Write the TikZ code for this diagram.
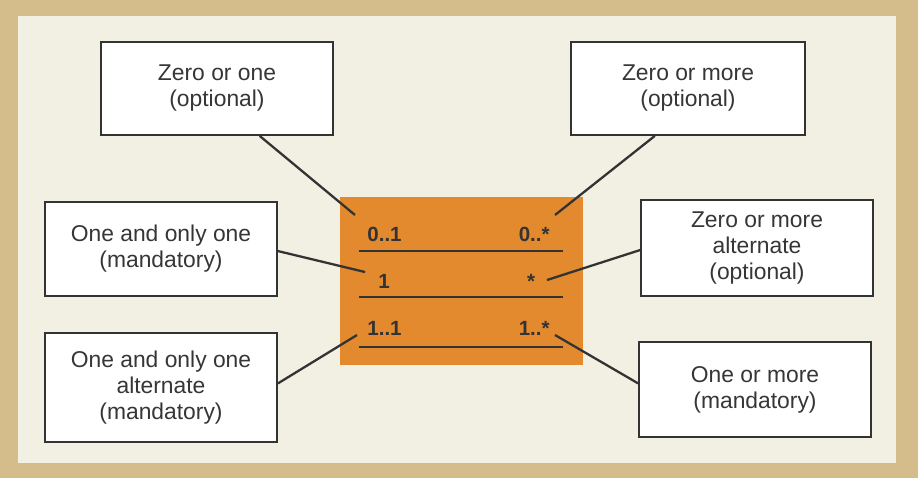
\documentclass[tikz,border=0pt]{standalone}
\usepackage{fontspec}
\setmainfont{Liberation Sans}
\definecolor{tanframe}{HTML}{D5BD8B}
\definecolor{creampanel}{HTML}{F2EFE3}
\definecolor{umlorange}{HTML}{E38A2F}
\definecolor{inkgray}{HTML}{333333}
\definecolor{txtgray}{HTML}{363636}
\tikzset{
  notebox/.style={draw=inkgray, fill=white, line width=1.05pt, align=center,
    minimum width=4.64cm, inner sep=0pt, text=txtgray,
    font=\fontsize{13}{14.8}\selectfont},
  mult/.style={inner sep=0pt, text=inkgray, font=\fontsize{11.7}{13}\selectfont\bfseries},
  link/.style={inkgray, line width=1.3pt}
}
\begin{document}
\begin{tikzpicture}[x=0.02cm, y=-0.02cm]

% Frame and panel
\fill[tanframe] (0,0) rectangle (918,478);
\fill[creampanel] (18,16) rectangle (896,463);
\useasboundingbox (0,0) rectangle (918,478);

% Multiplicity block
\node[fill=umlorange, minimum width=4.86cm, minimum height=3.36cm, inner sep=0pt] (assoc) at (461.5,281) {};
\draw[link] (359,251) -- (563,251);
\draw[link] (359,297) -- (563,297);
\draw[link] (359,347) -- (563,347);

\node[mult, anchor=base west] (m01) at (367,241) {0..1};
\node[mult, anchor=base east] (m0s) at (550,241) {0..*};
\node[mult, anchor=base] (m1) at (384,288) {1};
\node[mult, anchor=base] (ms) at (531,288) {*};
\node[mult, anchor=base west] (m11) at (367,335) {1..1};
\node[mult, anchor=base east] (m1s) at (550,335) {1..*};

% Connector ends next to the labels
\coordinate (c01) at (355,215);
\coordinate (c0s) at (555,215);
\coordinate (c1) at (365,272);
\coordinate (cs) at (547,280);
\coordinate (c11) at (357,335);
\coordinate (c1s) at (555,335);

% Explanation boxes
\node[notebox, minimum height=1.86cm] (zeroone) at (217,88.5) {Zero or one\\(optional)};
\node[notebox, minimum height=1.86cm, minimum width=4.68cm] (zeromore) at (688,88.5) {Zero or more\\(optional)};
\node[notebox, minimum height=1.88cm] (oneonly) at (161,249) {One and only one\\(mandatory)};
\node[notebox, minimum height=2.18cm] (oneonlyalt) at (161,387.5) {One and only one\\alternate\\(mandatory)};
\node[notebox, minimum height=1.92cm] (zeromorealt) at (757,248) {Zero or more\\alternate\\(optional)};
\node[notebox, minimum height=1.9cm] (onemore) at (755,389.5) {One or more\\(mandatory)};

% Connectors
\draw[link] (zeroone.-48.6) -- (c01);
\draw[link] (zeromore.-125.4) -- (c0s);
\draw[link] (oneonly.-1.5) -- (c1);
\draw[link] (zeromorealt.181) -- (cs);
\draw[link] (oneonlyalt.2.7) -- (c11);
\draw[link] (onemore.177.3) -- (c1s);

\end{tikzpicture}
\end{document}
